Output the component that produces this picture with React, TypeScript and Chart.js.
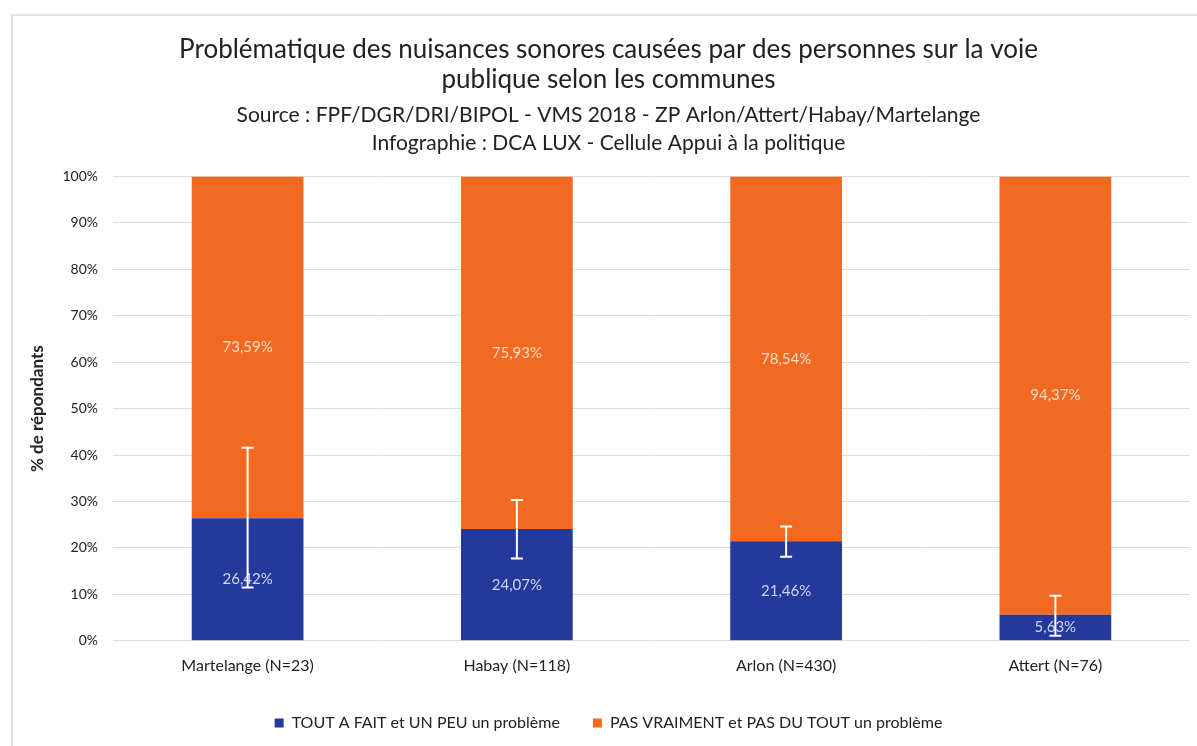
import React, { useEffect, useRef } from "react";
import { Chart, registerables } from "chart.js";

Chart.register(...registerables);

const categories = ["Martelange (N=23)", "Habay (N=118)", "Arlon (N=430)", "Attert (N=76)"];
const problemValues = [26.42, 24.07, 21.46, 5.63];
const noProblemValues = [73.59, 75.93, 78.54, 94.37];
const errLow = [11.5, 17.7, 18.1, 1.1];
const errHigh = [41.6, 30.3, 24.6, 9.7];
const yTicks = [0, 10, 20, 30, 40, 50, 60, 70, 80, 90, 100];

const titleLines = [
  "Problématique des nuisances sonores causées par des personnes sur la voie",
  "publique selon les communes",
];
const subtitleLines = [
  "Source : FPF/DGR/DRI/BIPOL - VMS 2018 - ZP Arlon/Attert/Habay/Martelange",
  "Infographie : DCA LUX - Cellule Appui à la politique",
];
const seriesNames = ["TOUT A FAIT et UN PEU un problème", "PAS VRAIMENT et PAS DU TOUT un problème"];

const BLUE = "#25399b";
const ORANGE = "#f26a21";
const FONT = "Lato, 'Open Sans', sans-serif";

const fmt = (v: number) => v.toFixed(2).replace(".", ",") + "%";

const labelsPlugin = {
  id: "barLabels",
  afterDatasetsDraw(chart: any) {
    const ctx = chart.ctx;
    ctx.save();
    ctx.font = `15px ${FONT}`;
    ctx.textAlign = "center";
    ctx.textBaseline = "middle";
    chart.data.datasets.forEach((ds: any, di: number) => {
      const meta = chart.getDatasetMeta(di);
      ctx.fillStyle = di === 0 ? "rgba(215,222,250,0.95)" : "rgba(255,225,205,0.95)";
      meta.data.forEach((el: any, i: number) => {
        const p = el.getCenterPoint();
        ctx.fillText(fmt(ds.data[i]), p.x, p.y);
      });
    });
    ctx.restore();
  },
};

const errorPlugin = {
  id: "errorBars",
  afterDatasetsDraw(chart: any) {
    const ctx = chart.ctx;
    const y = chart.scales.y;
    const meta = chart.getDatasetMeta(0);
    ctx.save();
    ctx.strokeStyle = "#ffffff";
    ctx.lineWidth = 2;
    meta.data.forEach((el: any, i: number) => {
      const x = el.x;
      const yl = y.getPixelForValue(errLow[i]);
      const yh = y.getPixelForValue(errHigh[i]);
      ctx.beginPath();
      ctx.moveTo(x, yl);
      ctx.lineTo(x, yh);
      ctx.moveTo(x - 6, yl);
      ctx.lineTo(x + 6, yl);
      ctx.moveTo(x - 6, yh);
      ctx.lineTo(x + 6, yh);
      ctx.stroke();
    });
    ctx.restore();
  },
};

export default function App() {
  const ref = useRef<HTMLCanvasElement>(null);
  useEffect(() => {
    if (!ref.current) return;
    const chart = new Chart(ref.current, {
      type: "bar",
      data: {
        labels: categories,
        datasets: [
          { label: seriesNames[0], data: problemValues, backgroundColor: BLUE, barPercentage: 0.83, categoryPercentage: 0.5 },
          { label: seriesNames[1], data: noProblemValues, backgroundColor: ORANGE, barPercentage: 0.83, categoryPercentage: 0.5 },
        ],
      },
      options: {
        animation: false,
        responsive: false,
        layout: { padding: { top: 35, left: 27, right: 7, bottom: 5 } },
        scales: {
          x: {
            stacked: true,
            grid: { display: false },
            border: { display: false },
            ticks: { color: "#222", font: { family: FONT, size: 16 }, padding: 7 },
          },
          y: {
            stacked: true,
            min: 0,
            max: 100,
            afterBuildTicks(axis: any) {
              axis.ticks = yTicks.map((v) => ({ value: v }));
            },
            grid: { color: "#dcdcdc", lineWidth: 1, drawTicks: false },
            border: { display: false },
            ticks: {
              color: "#222",
              font: { family: FONT, size: 14 },
              padding: 15,
              callback: (v: any) => v + "%",
            },
            title: {
              display: true,
              text: "% de répondants",
              color: "#222",
              font: { family: FONT, size: 17, weight: "bold" },
              padding: { top: 0, bottom: 0 },
            },
          },
        },
        plugins: {
          title: {
            display: true,
            text: titleLines,
            color: "#222",
            font: { family: FONT, size: 26, weight: "normal", lineHeight: 1.15 },
            padding: { top: 0, bottom: 6 },
          },
          subtitle: {
            display: true,
            text: subtitleLines,
            color: "#222",
            font: { family: FONT, size: 21, weight: "normal", lineHeight: 1.35 },
            padding: { top: 0, bottom: 19 },
          },
          legend: {
            position: "bottom",
            labels: {
              color: "#222",
              font: { family: FONT, size: 16 },
              boxWidth: 9,
              boxHeight: 9,
              padding: 33,
            },
          },
          tooltip: { enabled: false },
        },
      },
      plugins: [labelsPlugin, errorPlugin],
    });
    return () => chart.destroy();
  }, []);
  return (
    <div style={{ position: "absolute", left: 0, top: 0, width: 1197, height: 746, background: "#fff" }}>
      <div
        style={{
          position: "absolute",
          left: 11,
          top: 14,
          right: -2,
          bottom: -2,
          borderLeft: "2px solid #dedee6",
          borderTop: "2px solid #e6e6ea",
        }}
      />
      <canvas ref={ref} width={1197} height={746} style={{ position: "absolute", left: 0, top: 0 }} />
    </div>
  );
}
